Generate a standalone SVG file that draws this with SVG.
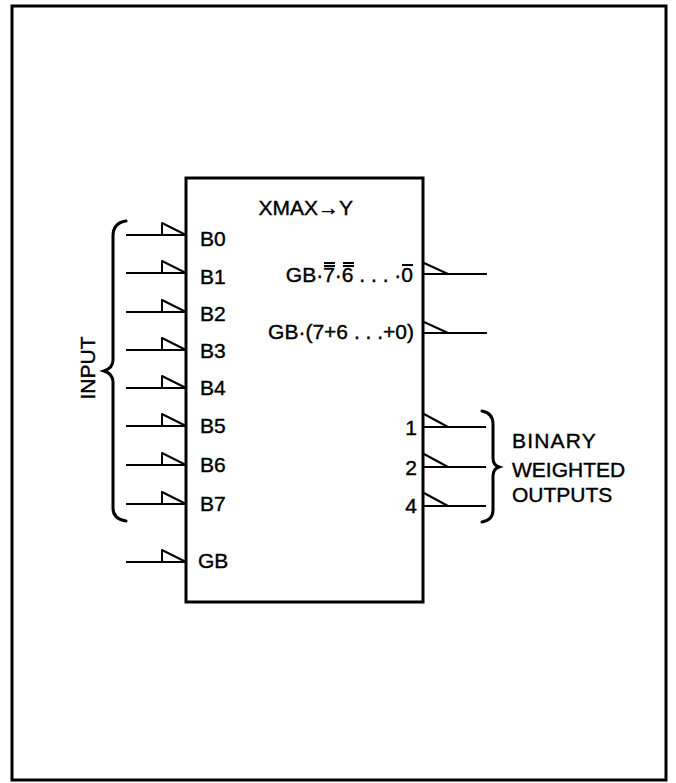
<svg xmlns="http://www.w3.org/2000/svg" width="676" height="783" viewBox="0 0 676 783">
<style>
.t{font-family:"Liberation Sans",Arial,sans-serif;font-size:21px;fill:#000;stroke:#000;stroke-width:0.4}
.ln{stroke:#000;stroke-width:2;fill:none}
.buf{stroke:#000;stroke-width:2;fill:none;stroke-linejoin:round}
.br{stroke:#000;stroke-width:3;fill:none;stroke-linecap:round}
</style>
<rect width="676" height="783" fill="#fff"/>
<rect id="frame" x="12" y="6" width="654" height="774" fill="none" stroke="#000" stroke-width="3"/>
<g id="block">
<rect x="186" y="178" width="237" height="424" fill="none" stroke="#000" stroke-width="3"/>
<text class="t" x="353" y="215" text-anchor="end">XMAX→Y</text>
</g>
<g id="inputs">
<g id="in-B0"><path class="ln" d="M126 235H186"/><path class="buf" d="M162 235V223L186 235"/><text class="t" x="200" y="246">B0</text></g>
<g id="in-B1"><path class="ln" d="M126 273H186"/><path class="buf" d="M162 273V261L186 273"/><text class="t" x="200" y="284">B1</text></g>
<g id="in-B2"><path class="ln" d="M126 312H186"/><path class="buf" d="M162 312V300L186 312"/><text class="t" x="200" y="321">B2</text></g>
<g id="in-B3"><path class="ln" d="M126 350H186"/><path class="buf" d="M162 350V338L186 350"/><text class="t" x="200" y="358">B3</text></g>
<g id="in-B4"><path class="ln" d="M126 388H186"/><path class="buf" d="M162 388V376L186 388"/><text class="t" x="200" y="395">B4</text></g>
<g id="in-B5"><path class="ln" d="M126 426H186"/><path class="buf" d="M162 426V414L186 426"/><text class="t" x="200" y="433">B5</text></g>
<g id="in-B6"><path class="ln" d="M126 465H186"/><path class="buf" d="M162 465V453L186 465"/><text class="t" x="200" y="472">B6</text></g>
<g id="in-B7"><path class="ln" d="M126 504H186"/><path class="buf" d="M162 504V492L186 504"/><text class="t" x="200" y="511">B7</text></g>
<g id="in-GB"><path class="ln" d="M126 562H186"/><path class="buf" d="M162 562V550L186 562"/><text class="t" x="198" y="568">GB</text></g>
</g>
<g id="input-brace">
<path class="br" d="M126 221Q113 223 113 236V360Q113 368 104 371Q113 374 113 382V508Q113 519 126 521"/>
<text class="t" transform="translate(95 368) rotate(-90)" text-anchor="middle">INPUT</text>
</g>
<g id="outputs">
<g id="out-nor">
<path class="ln" d="M423 274H487"/><path class="buf" d="M424 263L448 274"/>
<text class="t" x="413" y="282" text-anchor="end">GB·7·6 . . . ·0</text>
<path class="ln" stroke-width="1.5" d="M324 263H335M343 263H354M324 266H335M343 266H354M402 265H413"/>
</g>
<g id="out-or">
<path class="ln" d="M423 333H487"/><path class="buf" d="M424 322L448 333"/>
<text class="t" x="414" y="339" text-anchor="end">GB·(7+6 . . .+0)</text>
</g>
<g id="out-1"><path class="ln" d="M423 427H486"/><path class="buf" d="M424 414L448 427"/><text class="t" x="417" y="435" text-anchor="end">1</text></g>
<g id="out-2"><path class="ln" d="M423 467H486"/><path class="buf" d="M424 454L448 467"/><text class="t" x="417" y="475" text-anchor="end">2</text></g>
<g id="out-4"><path class="ln" d="M423 506H486"/><path class="buf" d="M424 493L448 506"/><text class="t" x="417" y="513" text-anchor="end">4</text></g>
</g>
<g id="output-brace">
<path class="br" d="M482 411Q493 413 493 424V458Q493 465 499 467Q493 469 493 476V510Q493 520 482 522"/>
<text class="t" x="512" y="448" letter-spacing="1.2">BINARY</text>
<text class="t" x="512" y="477">WEIGHTED</text>
<text class="t" x="512" y="502">OUTPUTS</text>
</g>
</svg>
